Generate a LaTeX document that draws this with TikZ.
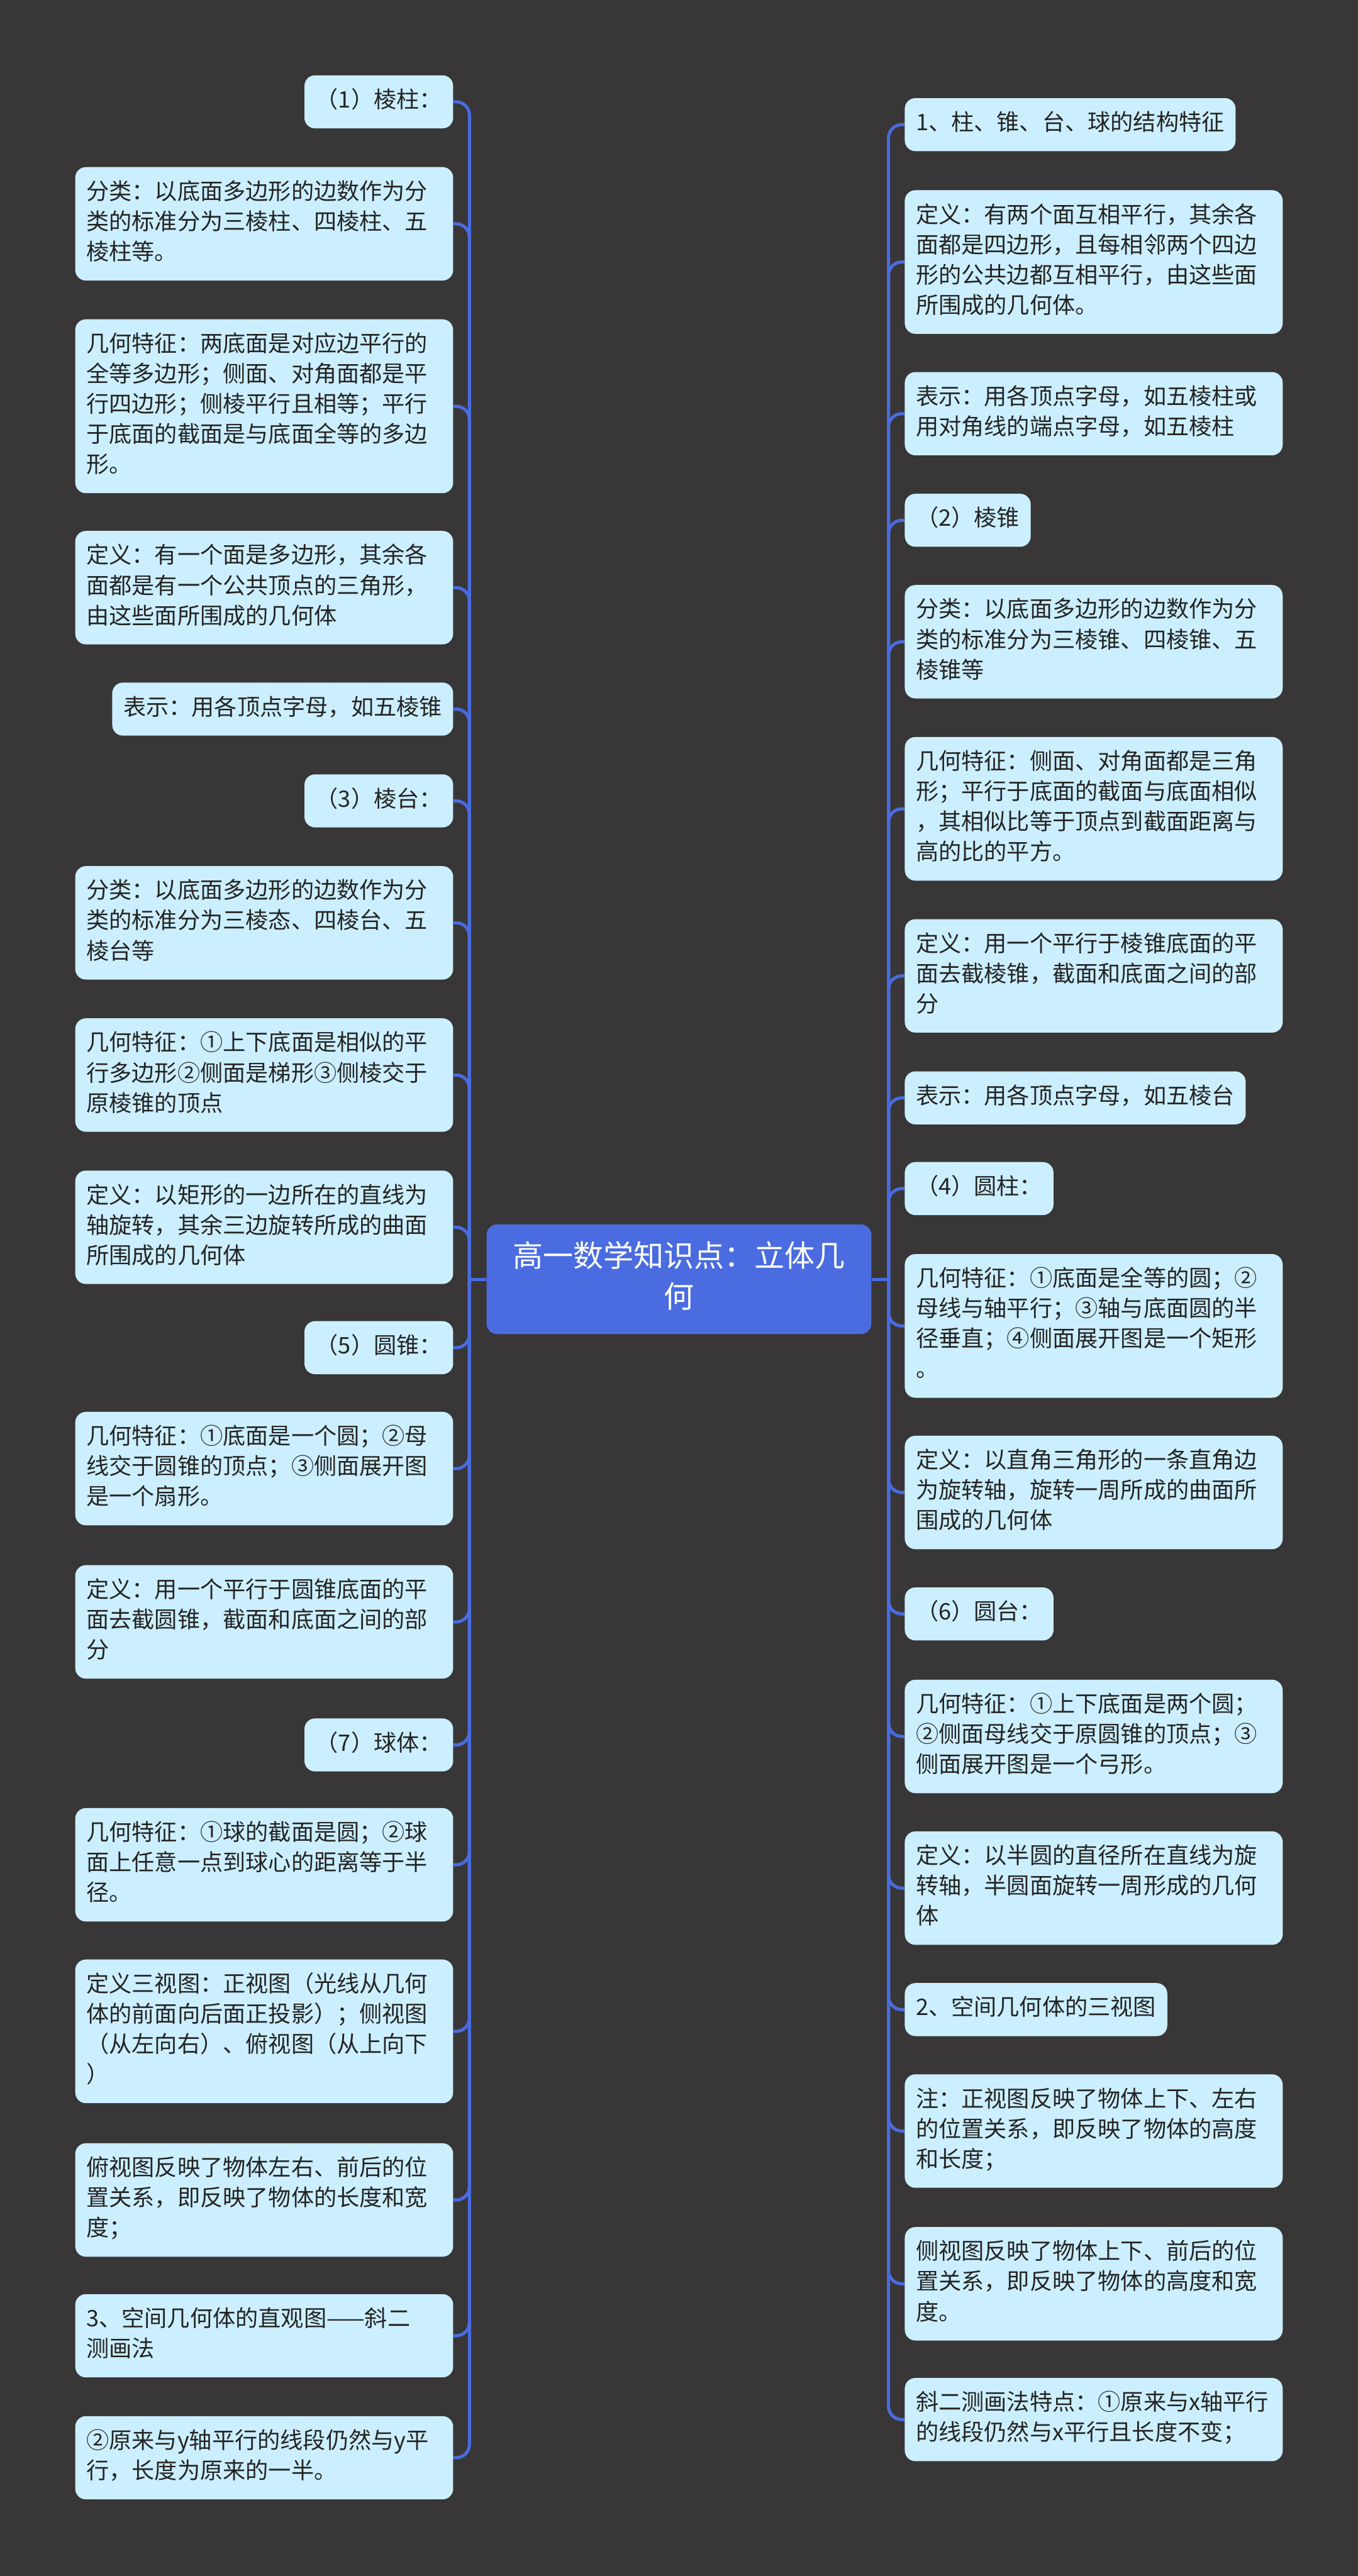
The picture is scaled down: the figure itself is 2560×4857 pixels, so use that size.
\documentclass[tikz,border=0pt]{standalone}
\usepackage{fontspec}
\newfontfamily\cjk{Noto Sans CJK SC}
\usetikzlibrary{positioning}
\definecolor{bgdark}{RGB}{56,54,55}
\definecolor{leafcyan}{RGB}{204,239,255}
\definecolor{topicblue}{RGB}{74,108,224}
\definecolor{textdark}{RGB}{36,36,36}

\begin{document}
\begin{tikzpicture}[
  x=0.01cm, y=-0.01cm,
  leaf/.style={fill=leafcyan, rounded corners=0.2cm, text=textdark,
               inner xsep=0.21cm, inner ysep=0.215cm, align=left,
               font=\cjk\fontsize{12.2pt}{16.2pt}\selectfont,
               execute at begin node=\strut, execute at end node=\strut},
  wide/.style={leaf, text width=6.7cm},
  topic/.style={fill=topicblue, rounded corners=0.2cm, text=white,
                text width=6.4cm, inner xsep=0.425cm, inner ysep=0.265cm, align=center,
                font=\cjk\fontsize{16.2pt}{21.9pt}\selectfont,
                execute at begin node=\strut, execute at end node=\strut},
  wire/.style={draw=topicblue, line width=0.06cm, rounded corners=0.25cm}
]
\fill[bgdark] (0,0) rectangle (2560,4857);
\useasboundingbox (0,0) rectangle (2560,4857);

\node[topic] (T) at (1280,2412) {高一数学知识点：立体几\\何};

% left side
\node[leaf, anchor=east] (L1) at (855,192) {（1）棱柱：};
\node[wide, anchor=east] (L2) at (855,422) {分类：以底面多边形的边数作为分\\类的标准分为三棱柱、四棱柱、五\\棱柱等。};
\node[wide, anchor=east] (L3) at (855,766) {几何特征：两底面是对应边平行的\\全等多边形；侧面、对角面都是平\\行四边形；侧棱平行且相等；平行\\于底面的截面是与底面全等的多边\\形。};
\node[wide, anchor=east] (L4) at (855,1108) {定义：有一个面是多边形，其余各\\面都是有一个公共顶点的三角形，\\由这些面所围成的几何体};
\node[leaf, anchor=east] (L5) at (855,1337) {表示：用各顶点字母，如五棱锥};
\node[leaf, anchor=east] (L6) at (855,1510) {（3）棱台：};
\node[wide, anchor=east] (L7) at (855,1740) {分类：以底面多边形的边数作为分\\类的标准分为三棱态、四棱台、五\\棱台等};
\node[wide, anchor=east] (L8) at (855,2027) {几何特征：①上下底面是相似的平\\行多边形②侧面是梯形③侧棱交于\\原棱锥的顶点};
\node[wide, anchor=east] (L9) at (855,2314) {定义：以矩形的一边所在的直线为\\轴旋转，其余三边旋转所成的曲面\\所围成的几何体};
\node[leaf, anchor=east] (L10) at (855,2541) {（5）圆锥：};
\node[wide, anchor=east] (L11) at (855,2769) {几何特征：①底面是一个圆；②母\\线交于圆锥的顶点；③侧面展开图\\是一个扇形。};
\node[wide, anchor=east] (L12) at (855,3058) {定义：用一个平行于圆锥底面的平\\面去截圆锥，截面和底面之间的部\\分};
\node[leaf, anchor=east] (L13) at (855,3290) {（7）球体：};
\node[wide, anchor=east] (L14) at (855,3516) {几何特征：①球的截面是圆；②球\\面上任意一点到球心的距离等于半\\径。};
\node[wide, anchor=east] (L15) at (855,3830) {定义三视图：正视图（光线从几何\\体的前面向后面正投影）；侧视图\\（从左向右）、俯视图（从上向下\\）};
\node[wide, anchor=east] (L16) at (855,4148) {俯视图反映了物体左右、前后的位\\置关系，即反映了物体的长度和宽\\度；};
\node[wide, anchor=east] (L17) at (855,4404) {3、空间几何体的直观图——斜二\\测画法};
\node[wide, anchor=east] (L18) at (855,4634) {②原来与y轴平行的线段仍然与y平\\行，长度为原来的一半。};

% right side
\node[leaf, anchor=west] (R1) at (1705,235) {1、柱、锥、台、球的结构特征};
\node[wide, anchor=west] (R2) at (1705,494) {定义：有两个面互相平行，其余各\\面都是四边形，且每相邻两个四边\\形的公共边都互相平行，由这些面\\所围成的几何体。};
\node[wide, anchor=west] (R3) at (1705,780) {表示：用各顶点字母，如五棱柱或\\用对角线的端点字母，如五棱柱};
\node[leaf, anchor=west] (R4) at (1705,981) {（2）棱锥};
\node[wide, anchor=west] (R5) at (1705,1210) {分类：以底面多边形的边数作为分\\类的标准分为三棱锥、四棱锥、五\\棱锥等};
\node[wide, anchor=west] (R6) at (1705,1525) {几何特征：侧面、对角面都是三角\\形；平行于底面的截面与底面相似\\，其相似比等于顶点到截面距离与\\高的比的平方。};
\node[wide, anchor=west] (R7) at (1705,1840) {定义：用一个平行于棱锥底面的平\\面去截棱锥，截面和底面之间的部\\分};
\node[leaf, anchor=west] (R8) at (1705,2070) {表示：用各顶点字母，如五棱台};
\node[leaf, anchor=west] (R9) at (1705,2241) {（4）圆柱：};
\node[wide, anchor=west] (R10) at (1705,2500) {几何特征：①底面是全等的圆；②\\母线与轴平行；③轴与底面圆的半\\径垂直；④侧面展开图是一个矩形\\。};
\node[wide, anchor=west] (R11) at (1705,2814) {定义：以直角三角形的一条直角边\\为旋转轴，旋转一周所成的曲面所\\围成的几何体};
\node[leaf, anchor=west] (R12) at (1705,3043) {（6）圆台：};
\node[wide, anchor=west] (R13) at (1705,3274) {几何特征：①上下底面是两个圆；\\②侧面母线交于原圆锥的顶点；③\\侧面展开图是一个弓形。};
\node[wide, anchor=west] (R14) at (1705,3560) {定义：以半圆的直径所在直线为旋\\转轴，半圆面旋转一周形成的几何\\体};
\node[leaf, anchor=west] (R15) at (1705,3789) {2、空间几何体的三视图};
\node[wide, anchor=west] (R16) at (1705,4018) {注：正视图反映了物体上下、左右\\的位置关系，即反映了物体的高度\\和长度；};
\node[wide, anchor=west] (R17) at (1705,4306) {侧视图反映了物体上下、前后的位\\置关系，即反映了物体的高度和宽\\度。};
\node[wide, anchor=west] (R18) at (1705,4562) {斜二测画法特点：①原来与x轴平行\\的线段仍然与x平行且长度不变；};

% connectors
\coordinate (LJ) at (885,2412);
\coordinate (RJ) at (1675,2412);
\draw[wire] (T.west) -- (LJ);
\draw[wire] (T.east) -- (RJ);
\foreach \n in {1,...,18} {
  \draw[wire] (LJ) |- (L\n.east);
  \draw[wire] (RJ) |- (R\n.west);
}
\end{tikzpicture}
\end{document}
